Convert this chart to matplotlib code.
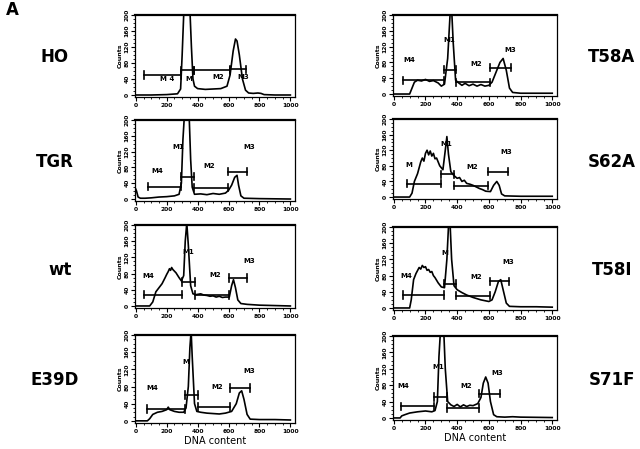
import matplotlib
matplotlib.use("Agg")
from matplotlib import pyplot as plt
from matplotlib.ticker import MultipleLocator

# DNA histograms (x = DNA content, y = counts)
HO_x = [0, 50, 100, 200, 270, 290, 300, 310, 320, 350, 360, 370, 380, 400, 450, 500, 550, 590, 610, 630, 645, 655, 670, 690, 710, 730, 760, 790, 810, 830, 900, 1000]
HO_y = [0, 0, 0, 1, 3, 15, 100, 200, 215, 215, 120, 40, 22, 16, 14, 15, 16, 22, 50, 110, 140, 135, 100, 40, 12, 5, 4, 5, 4, 1, 0, 0]

TGR_x = [0, 5, 15, 30, 60, 100, 150, 200, 250, 280, 295, 305, 315, 345, 355, 365, 380, 420, 460, 500, 540, 580, 600, 620, 640, 655, 665, 680, 700, 800, 1000]
TGR_y = [25, 20, 5, 2, 2, 3, 5, 6, 8, 12, 40, 150, 215, 215, 100, 30, 12, 13, 11, 14, 12, 15, 22, 35, 55, 60, 35, 8, 2, 1, 0]

WT_x = [0, 90, 110, 130, 150, 170, 190, 200, 210, 218, 225, 232, 240, 250, 260, 270, 280, 295, 310, 320, 330, 340, 355, 370, 390, 420, 440, 460, 480, 500, 520, 540, 560, 580, 605, 620, 632, 645, 660, 680, 720, 800, 900, 1000]
WT_y = [0, 0, 10, 35, 45, 55, 70, 78, 85, 92, 88, 95, 90, 86, 82, 76, 70, 62, 75, 160, 205, 150, 50, 30, 28, 30, 27, 26, 24, 25, 22, 24, 21, 22, 22, 50, 65, 45, 15, 6, 4, 2, 1, 0]

E39D_x = [0, 75, 90, 110, 140, 170, 200, 210, 220, 250, 280, 310, 325, 340, 350, 358, 365, 380, 395, 420, 460, 500, 540, 580, 620, 650, 670, 685, 700, 720, 740, 800, 900, 1000]
E39D_y = [0, 0, 5, 15, 20, 22, 26, 32, 26, 22, 20, 20, 30, 80, 170, 210, 150, 40, 22, 20, 18, 17, 16, 18, 22, 40, 65, 70, 50, 15, 4, 3, 3, 2]

T58A_x = [0, 100, 115, 130, 150, 175, 200, 225, 250, 280, 300, 320, 340, 355, 365, 375, 390, 410, 430, 450, 475, 500, 525, 550, 575, 600, 620, 650, 670, 690, 710, 730, 750, 800, 900, 1000]
T58A_y = [0, 0, 15, 30, 35, 33, 37, 32, 34, 28, 20, 25, 90, 200, 215, 130, 35, 28, 22, 27, 21, 25, 20, 24, 20, 22, 30, 60, 80, 90, 60, 15, 4, 2, 2, 2]

S62A_x = [0, 100, 115, 130, 150, 170, 180, 190, 200, 210, 220, 230, 240, 250, 260, 270, 290, 310, 325, 335, 345, 360, 380, 400, 415, 430, 445, 460, 480, 500, 520, 540, 560, 580, 610, 630, 650, 665, 680, 700, 800, 900, 1000]
S62A_y = [0, 0, 10, 40, 60, 90, 100, 92, 112, 120, 108, 118, 105, 112, 98, 100, 80, 70, 120, 155, 110, 65, 55, 48, 50, 40, 43, 35, 33, 30, 26, 22, 19, 15, 14, 30, 40, 30, 8, 3, 2, 2, 2]

T58I_x = [0, 100, 110, 125, 140, 160, 170, 180, 190, 200, 210, 220, 230, 240, 250, 260, 280, 300, 320, 335, 345, 355, 365, 380, 400, 430, 460, 500, 550, 600, 620, 640, 660, 675, 690, 710, 730, 800, 900, 1000]
T58I_y = [0, 0, 20, 70, 85, 100, 96, 105, 100, 102, 93, 95, 88, 90, 80, 75, 62, 52, 50, 120, 200, 210, 120, 55, 45, 38, 32, 26, 20, 16, 20, 40, 65, 70, 45, 12, 4, 3, 3, 2]

S71F_x = [0, 40, 50, 70, 100, 150, 200, 240, 260, 275, 285, 295, 315, 325, 340, 360, 380, 400, 420, 440, 460, 480, 500, 530, 550, 565, 580, 595, 610, 630, 650, 700, 750, 800, 1000]
S71F_y = [0, 0, 5, 8, 12, 15, 17, 15, 18, 40, 150, 215, 215, 120, 40, 32, 28, 33, 27, 32, 28, 31, 30, 35, 50, 85, 100, 85, 40, 8, 3, 2, 3, 2, 1]

# gates (start, end, height) and marker labels (text, x, y)
HO_gates = [(290, 375, 62), (375, 610, 62), (610, 710, 64), (50, 290, 50)]
HO_labels = [("M", 341, 41), ("M2", 533, 45), ("M3", 695, 45), ("M 4", 200, 41)]
TGR_gates = [(295, 375, 57), (375, 595, 29), (595, 720, 69), (80, 295, 31)]
TGR_labels = [("M1", 274, 131), ("M2", 474, 84), ("M3", 737, 131), ("M4", 137, 70)]
WT_gates = [(300, 380, 59), (380, 600, 27), (600, 720, 69), (55, 300, 28)]
WT_labels = [("M1", 337, 134), ("M2", 516, 76), ("M3", 737, 111), ("M4", 84, 74)]
E39D_gates = [(320, 400, 60), (400, 610, 32), (610, 740, 76), (75, 320, 28)]
E39D_labels = [("M", 326, 137), ("M2", 526, 78), ("M3", 737, 115), ("M4", 105, 76)]
T58A_gates = [(315, 395, 62), (395, 610, 30), (610, 740, 67), (60, 315, 35)]
T58A_labels = [("M1", 353, 136), ("M2", 517, 77), ("M3", 733, 112), ("M4", 96, 85)]
S62A_gates = [(300, 380, 59), (380, 595, 29), (595, 720, 65), (85, 300, 34)]
S62A_labels = [("M1", 329, 137), ("M2", 497, 78), ("M3", 712, 115), ("M", 96, 83)]
T58I_gates = [(315, 395, 60), (395, 610, 30), (610, 730, 66), (60, 315, 32)]
T58I_labels = [("M", 322, 135), ("M2", 517, 76), ("M3", 723, 113), ("M4", 76, 80)]
S71F_gates = [(255, 335, 51), (335, 540, 24), (540, 670, 59), (45, 255, 28)]
S71F_labels = [("M1", 281, 125), ("M2", 456, 77), ("M3", 651, 110), ("M4", 62, 77)]

W, H = 640, 449
fig = plt.figure(figsize=(W / 100, H / 100), dpi=100)


def panel(box, xs, ys, gates, labels, name, name_x, name_y, bottom=False):
    x0, top, x1, bot = box
    ax = fig.add_axes([x0 / W, 1 - bot / H, (x1 - x0) / W, (bot - top) / H])
    ax.plot(xs, ys, color="black", lw=1.2)
    for (a, b, h) in gates:
        ax.plot([a, b], [h, h], color="black", lw=1.2)
        ax.plot([a, a], [h - 9, h + 9], color="black", lw=1.2)
        ax.plot([b, b], [h - 9, h + 9], color="black", lw=1.2)
    for (t, lx, ly) in labels:
        ax.text(lx, ly, t, fontsize=5, fontweight="bold", ha="center", va="center")
    ax.set_xlim(-5, 1030)
    ax.set_ylim(-5, 200)
    ax.set_xticks([0, 200, 400, 600, 800, 1000])
    ax.set_yticks([0, 40, 80, 120, 160, 200])
    ax.xaxis.set_minor_locator(MultipleLocator(50))
    ax.yaxis.set_minor_locator(MultipleLocator(10))
    ax.tick_params(which="major", length=3, width=0.8, labelsize=4.3, pad=1)
    ax.tick_params(which="minor", length=1.5, width=0.6)
    for lab in ax.get_yticklabels():
        lab.set_rotation(90)
        lab.set_va("center")
        lab.set_fontweight("bold")
    for lab in ax.get_xticklabels():
        lab.set_fontweight("bold")
    for s in ax.spines.values():
        s.set_linewidth(0.9)
    ax.spines["top"].set_linewidth(1.6)
    ax.set_ylabel("Counts", fontsize=4.5, fontweight="bold", labelpad=1)
    if bottom:
        ax.set_xlabel("DNA content", fontsize=7, labelpad=2)
    fig.text(name_x / W, 1 - name_y / H, name, fontsize=12, fontweight="bold",
             ha="center", va="center")
    return ax


panel((135, 15, 295, 97), HO_x, HO_y, HO_gates, HO_labels, "HO", 55, 57)
panel((135, 120, 295, 201), TGR_x, TGR_y, TGR_gates, TGR_labels, "TGR", 55, 162)
panel((135, 225, 295, 308), WT_x, WT_y, WT_gates, WT_labels, "wt", 60, 270)
panel((135, 335, 295, 423), E39D_x, E39D_y, E39D_gates, E39D_labels, "E39D", 55, 380, bottom=True)
panel((393, 15, 557, 96), T58A_x, T58A_y, T58A_gates, T58A_labels, "T58A", 612, 57)
panel((393, 119, 557, 199), S62A_x, S62A_y, S62A_gates, S62A_labels, "S62A", 612, 162)
panel((393, 227, 557, 310), T58I_x, T58I_y, T58I_gates, T58I_labels, "T58I", 612, 270)
panel((393, 336, 557, 420), S71F_x, S71F_y, S71F_gates, S71F_labels, "S71F", 612, 380, bottom=True)

fig.text(12 / W, 1 - 10 / H, "A", fontsize=12, fontweight="bold", ha="center", va="center")

fig.savefig("out.png", dpi=100)
